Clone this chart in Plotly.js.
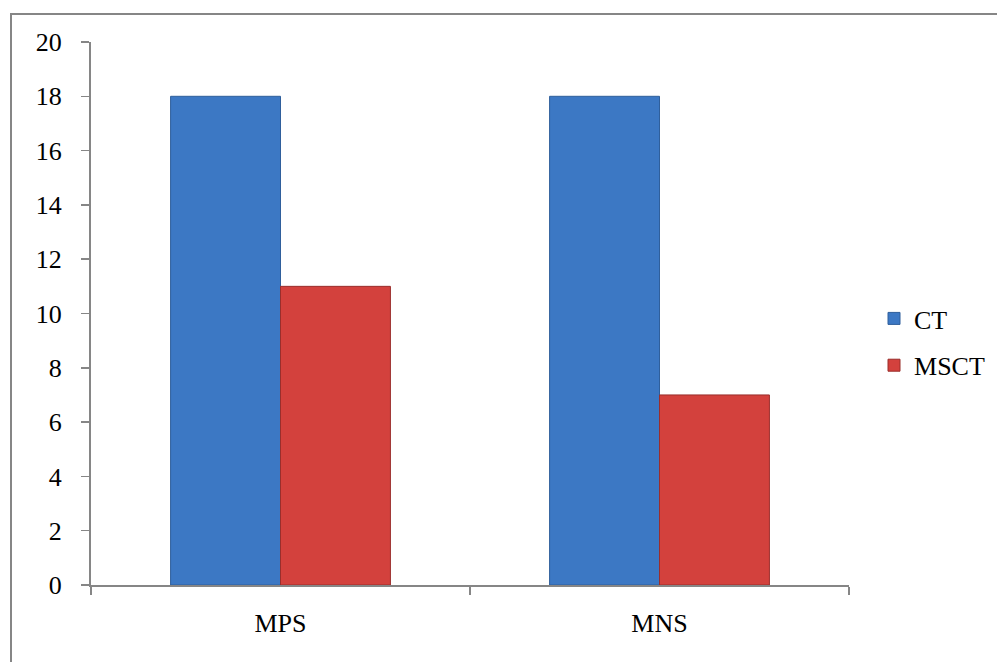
<!DOCTYPE html>
<html>
<head>
<meta charset="utf-8">
<script src="https://cdn.plot.ly/plotly-3.0.1.min.js"></script>
<style>
  html, body { margin: 0; padding: 0; background: #fff; }
  #wrap { position: relative; width: 997px; height: 662px; overflow: hidden; }
  #chart { position: absolute; left: 0; top: 0; width: 997px; height: 662px; }
  #frame { position: absolute; left: 10px; top: 13px; width: 990px; height: 700px;
           border-left: 2px solid #868686; border-top: 2px solid #868686; box-sizing: border-box; pointer-events: none; }
</style>
</head>
<body>
<div id="wrap">
  <div id="chart"></div>
  <div id="frame"></div>
</div>
<script>
const categories = ["MPS", "MNS"];
const ctValues = [18, 18];
const msctValues = [11, 7];
const yTicks = [0, 2, 4, 6, 8, 10, 12, 14, 16, 18, 20];

const serif = "Liberation Serif, Times New Roman, serif";

const traces = [
  {
    type: "bar", name: "CT", x: categories, y: ctValues, legendgroup: "a",
    marker: { color: "#3c78c4", line: { color: "#2f5f9c", width: 1 } },
    hoverinfo: "x+y"
  },
  {
    type: "bar", name: "MSCT", x: categories, y: msctValues, legendgroup: "b",
    marker: { color: "#d3413d", line: { color: "#9a2e2b", width: 1 } },
    hoverinfo: "x+y"
  }
];

const layout = {
  width: 997, height: 662,
  margin: { l: 91, r: 148, t: 42, b: 77, autoexpand: false },
  paper_bgcolor: "#ffffff",
  plot_bgcolor: "#ffffff",
  barmode: "group",
  bargap: 0.42,
  bargroupgap: 0,
  showlegend: true,
  font: { family: serif, size: 26, color: "#000" },
  xaxis: {
    type: "category",
    tickson: "boundaries",
    ticks: "outside", ticklen: 8, tickcolor: "#868686", tickwidth: 1.5,
    showline: true, linecolor: "#868686", linewidth: 2,
    showgrid: false, zeroline: false,
    ticklabelstandoff: 14,
    tickfont: { family: serif, size: 26, color: "#000" }
  },
  yaxis: {
    range: [0, 20],
    tickvals: yTicks,
    ticks: "outside", ticklen: 8, tickcolor: "#868686", tickwidth: 1.5,
    showline: true, linecolor: "#868686", linewidth: 2,
    showgrid: false, zeroline: false,
    ticklabelstandoff: 14,
    tickfont: { family: serif, size: 26, color: "#000" }
  },
  legend: {
    x: 1.033, xanchor: "left",
    y: 0.4475, yanchor: "middle",
    font: { family: serif, size: 26, color: "#000" },
    tracegroupgap: 10,
    bgcolor: "rgba(0,0,0,0)"
  }
};

Plotly.newPlot("chart", traces, layout, { displayModeBar: false, staticPlot: true });
</script>
</body>
</html>
